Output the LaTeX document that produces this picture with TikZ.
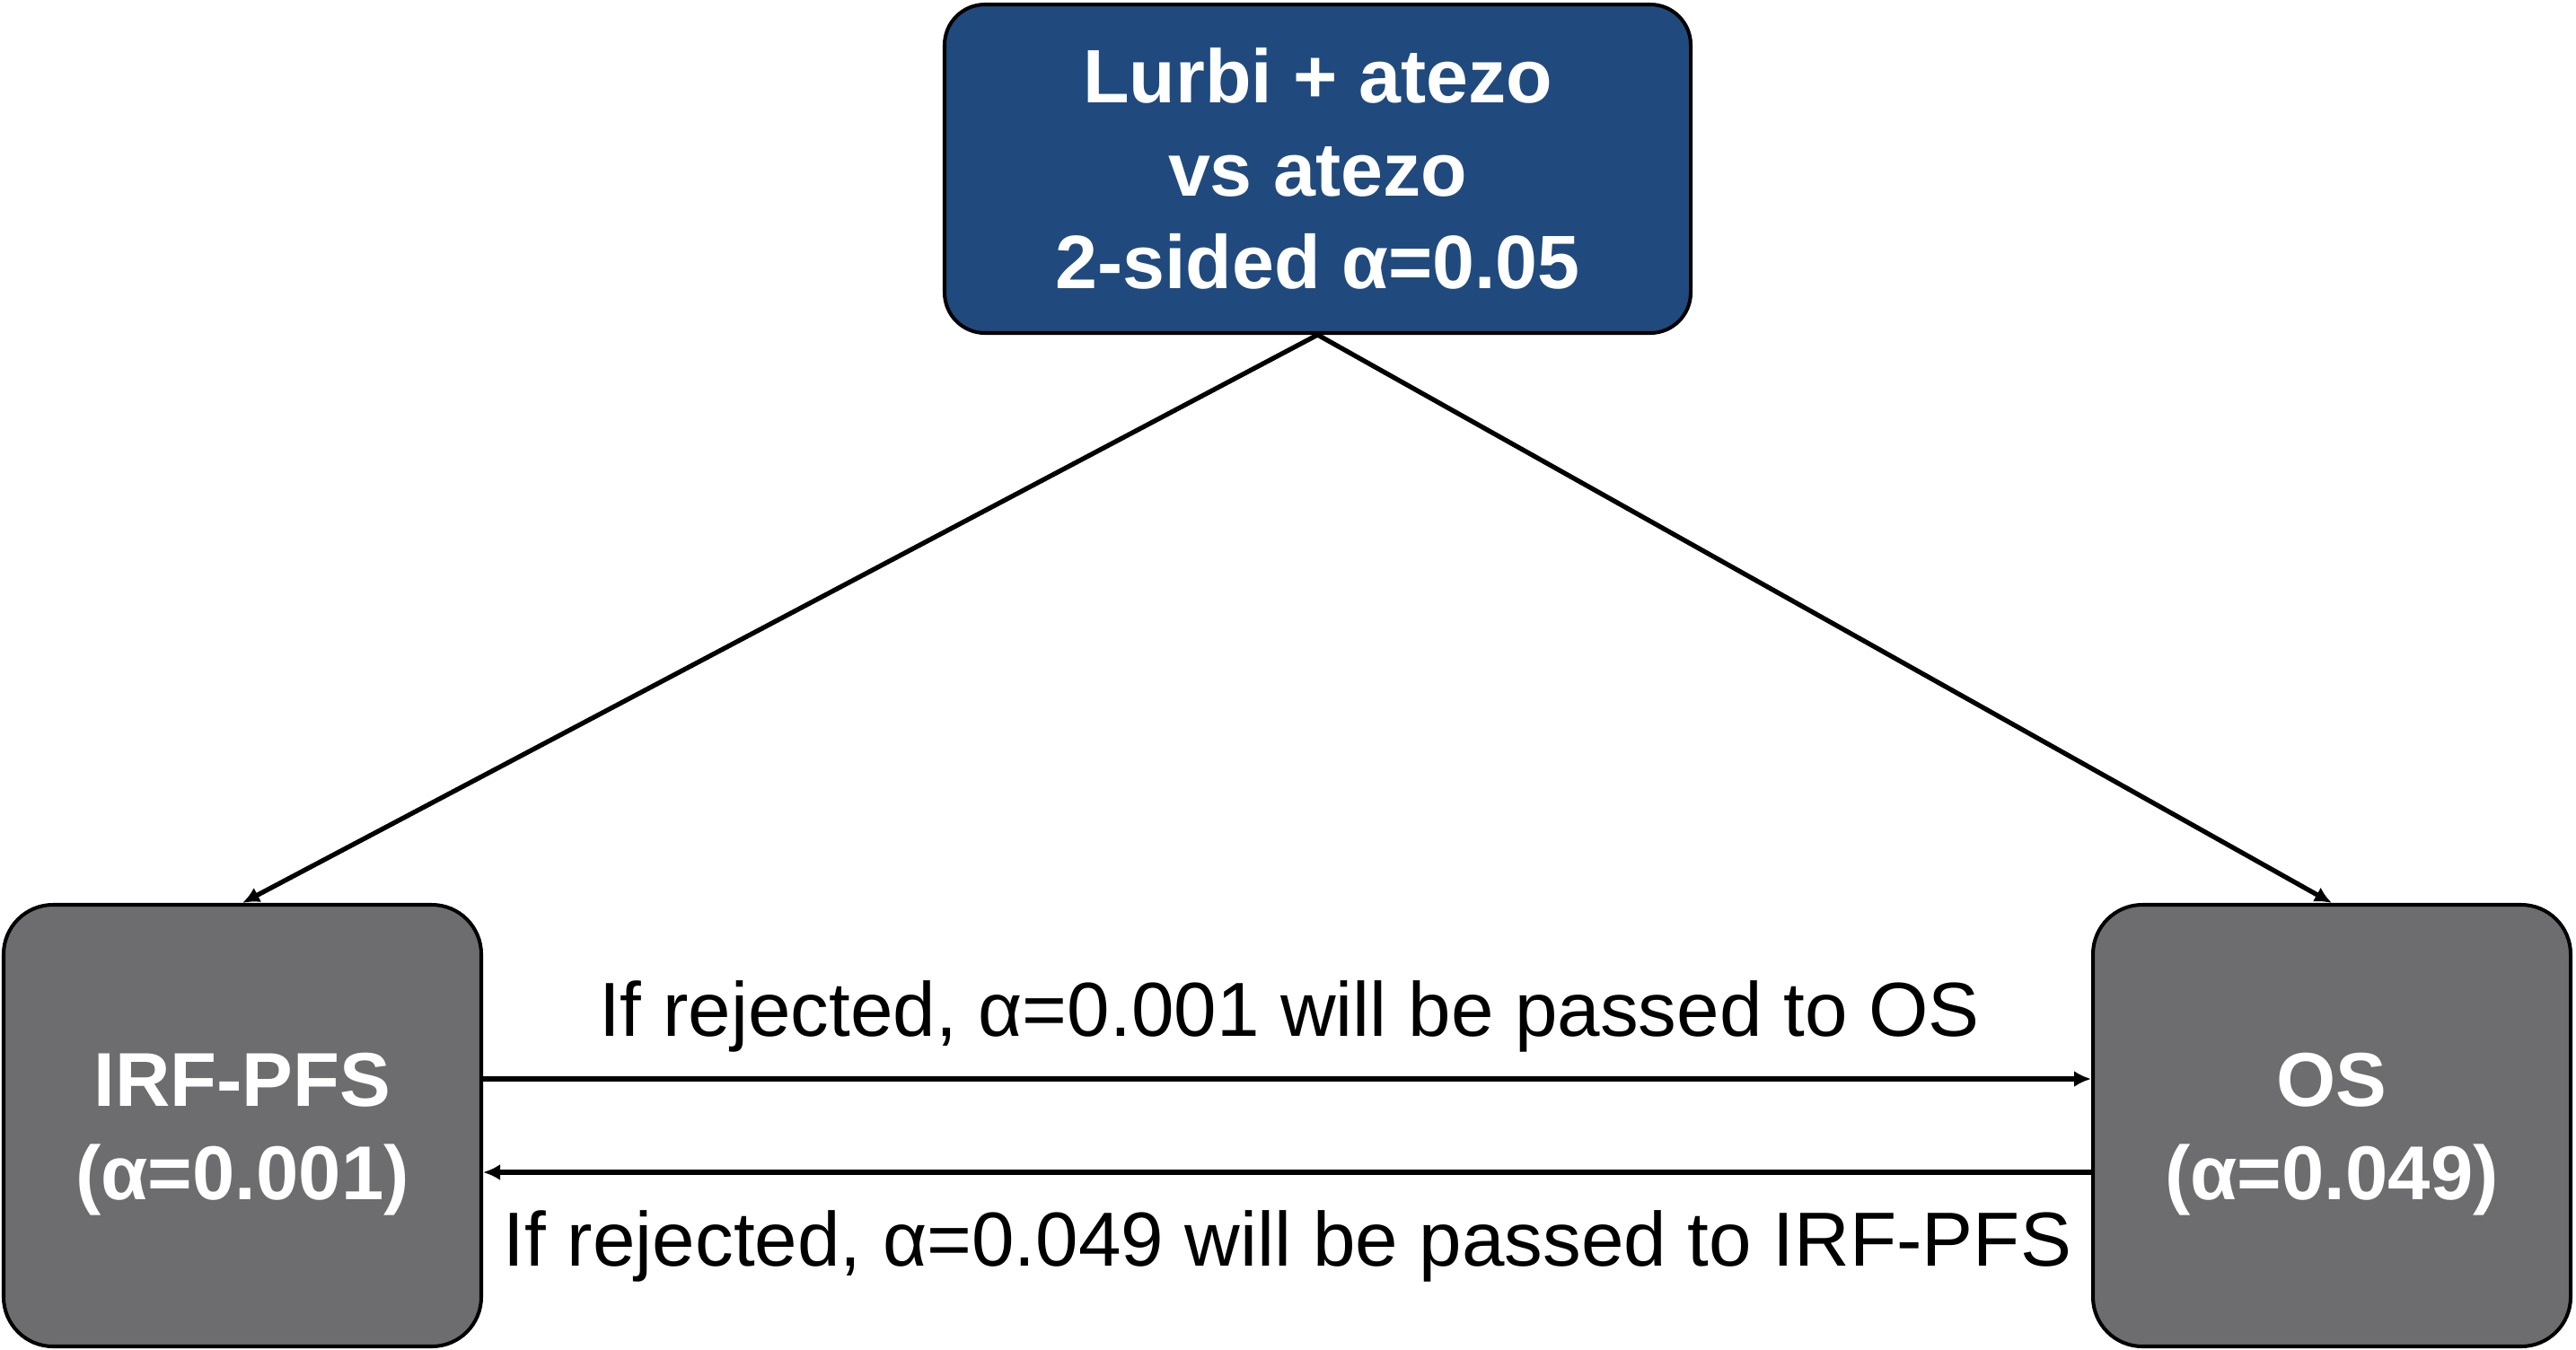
\documentclass[tikz,border=0pt]{standalone}
\usepackage{fontspec}
\setmainfont{Liberation Sans}
\usetikzlibrary{arrows.meta}
\definecolor{topblue}{HTML}{204A7E}
\definecolor{boxgray}{HTML}{6D6D6F}
\begin{document}
\begin{tikzpicture}[x=1cm,y=1cm,
  box/.style={draw=black, line width=1.15pt, inner sep=0pt, align=center, text=white,
    font=\fontsize{24}{29.5}\selectfont\bfseries},
  topbox/.style={box, fill=topblue, minimum width=8.31cm, minimum height=3.66cm, rounded corners=0.45cm},
  sidebox/.style={box, fill=boxgray, minimum width=5.32cm, minimum height=4.92cm, rounded corners=0.55cm,
    font=\fontsize{24.2}{29.6}\selectfont\bfseries},
  conn/.style={line width=1.5pt, -{Latex[length=0.19cm,width=0.18cm]}},
  lbl/.style={font=\fontsize{24.3}{29}\selectfont, anchor=base, inner sep=0pt}]
\useasboundingbox (0,0) rectangle (28.69,-15.04);
\node[topbox] (top) at (14.675,-1.88) {Lurbi + atezo\\vs atezo\\2-sided α=0.05};
\node[sidebox] (irf) at (2.70,-12.54) {\rule{0pt}{22.5pt}IRF-PFS\\(α=0.001)};
\node[sidebox] (os) at (25.97,-12.54) {\rule{0pt}{22.5pt}OS\\(α=0.049)};
\draw[conn] (top.south) -- (irf.north);
\draw[conn] (top.south) -- (os.north);
\draw[conn] ([yshift=0.52cm]irf.east) -- ([yshift=0.52cm]os.west);
\draw[conn] ([yshift=-0.52cm]os.west) -- ([yshift=-0.52cm]irf.east);
\node[lbl] (l1) at (14.36,-11.54) {If rejected, α=0.001 will be passed to OS};
\node[lbl] (l2) at (14.34,-14.10) {If rejected, α=0.049 will be passed to IRF-PFS};
\end{tikzpicture}
\end{document}
